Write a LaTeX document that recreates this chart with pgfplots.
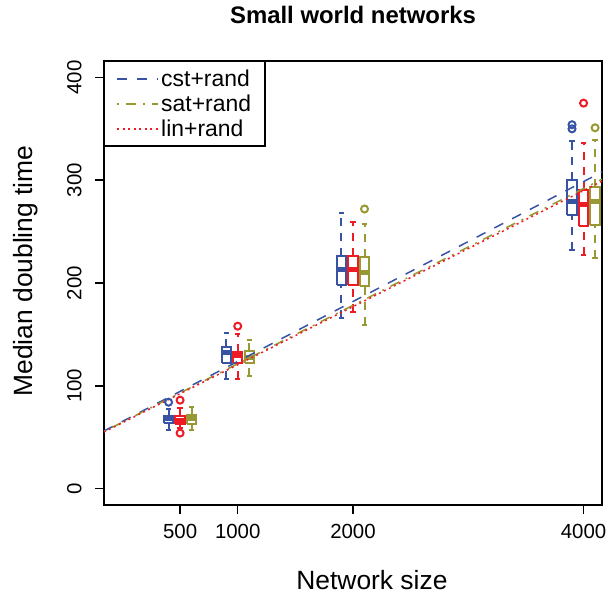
\documentclass[border=0pt]{standalone}
\usepackage{fontspec}
\setmainfont{Liberation Sans}
\usepackage{pgfplots}
\pgfplotsset{compat=1.18}

\definecolor{cstblue}{RGB}{57,83,164}
\definecolor{linred}{RGB}{237,28,36}
\definecolor{satolive}{RGB}{152,152,52}

% pieces of an R-style boxplot, drawn as broken line plots (nan = break)
\pgfplotsset{
  bx/.style={forget plot, line width=2bp, unbounded coords=jump},
  bxmed/.style={forget plot, line width=5bp, unbounded coords=jump},
  bxwhisk/.style={forget plot, line width=2bp, dash pattern=on 8bp off 7bp, unbounded coords=jump},
  bxout/.style={forget plot, only marks, mark=o, mark size=3.5bp, mark options={solid, line width=2bp}},
}

\begin{document}
\begin{tikzpicture}
\begin{axis}[
    scale only axis,
    width=498bp, height=444bp,
    xmin=-160, xmax=4160,
    ymin=-16, ymax=416,
    xtick={500,1000,2000,4000},
    xticklabels={500,1000,2000,4000},
    ytick={0,100,200,300,400},
    yticklabels={0,100,200,300,400},
    tick align=outside,
    major tick length=9bp,
    tick style={black, line width=1.5bp},
    axis line style={line width=1.5bp},
    xtick pos=bottom, ytick pos=left,
    xticklabel shift=7bp, yticklabel shift=10bp,
    x tick label style={font=\fontsize{20.5}{24}\selectfont},
    y tick label style={font=\fontsize{20.5}{24}\selectfont, rotate=90, anchor=south},
    xlabel={Network size},
    ylabel={Median doubling time},
    xlabel style={font=\fontsize{26.5}{30}\selectfont, at={(axis description cs:0.538,-0.169)}, anchor=center},
    ylabel style={font=\fontsize{26.5}{30}\selectfont, at={(axis description cs:-0.157,0.527)}, anchor=center},
    title={Small world networks},
    title style={font=\fontsize{24}{27}\selectfont\bfseries, at={(axis description cs:0.5,1.09)}, anchor=center},
    legend style={at={(0,1)}, anchor=north west, draw=black, line width=1.5bp,
        font=\fontsize{23}{26}\selectfont, inner xsep=12bp, inner ysep=6bp,
        row sep=3bp, cells={anchor=west}},
    legend image code/.code={\draw[#1] (0bp,0bp) -- (34bp,0bp); \path (0bp,0bp) -- (41bp,0bp);},
]
% ---- cst+rand boxes at 400, 900, 1900, 3900
\addplot[cstblue, bx] coordinates {
  (360,63.8) (440,63.8) (440,70.6) (360,70.6) (360,63.8) (nan,nan)
  (860,122.5) (940,122.5) (940,138) (860,138) (860,122.5) (nan,nan)
  (1860,198) (1940,198) (1940,226) (1860,226) (1860,198) (nan,nan)
  (3860,266) (3940,266) (3940,300) (3860,300) (3860,266)
  (nan,nan) (377.5,57) (422.5,57) (nan,nan) (377.5,77.5) (422.5,77.5)
  (nan,nan) (877.5,107) (922.5,107) (nan,nan) (877.5,151) (922.5,151)
  (nan,nan) (1877.5,166) (1922.5,166) (nan,nan) (1877.5,268) (1922.5,268)
  (nan,nan) (3877.5,232) (3922.5,232) (nan,nan) (3877.5,338) (3922.5,338)
};
\addplot[cstblue, bxmed] coordinates {
  (360,67.7) (440,67.7) (nan,nan) (860,132) (940,132) (nan,nan)
  (1860,213) (1940,213) (nan,nan) (3860,279) (3940,279)
};
\addplot[cstblue, bxwhisk] coordinates {
  (400,57) (400,63.8) (nan,nan) (400,70.6) (400,77.5) (nan,nan)
  (900,107) (900,122.5) (nan,nan) (900,138) (900,151) (nan,nan)
  (1900,166) (1900,198) (nan,nan) (1900,226) (1900,268) (nan,nan)
  (3900,232) (3900,266) (nan,nan) (3900,300) (3900,338)
};
\addplot[cstblue, bxout] coordinates {(400,84) (3900,350) (3900,354)};
% ---- lin+rand boxes at 500, 1000, 2000, 4000
\addplot[linred, bx] coordinates {
  (460,63) (540,63) (540,70.6) (460,70.6) (460,63) (nan,nan)
  (960,122) (1040,122) (1040,133) (960,133) (960,122) (nan,nan)
  (1960,198) (2040,198) (2040,226) (1960,226) (1960,198) (nan,nan)
  (3960,255) (4040,255) (4040,290) (3960,290) (3960,255)
  (nan,nan) (477.5,59) (522.5,59) (nan,nan) (477.5,78) (522.5,78)
  (nan,nan) (977.5,107) (1022.5,107) (nan,nan) (977.5,150) (1022.5,150)
  (nan,nan) (1977.5,172) (2022.5,172) (nan,nan) (1977.5,259) (2022.5,259)
  (nan,nan) (3977.5,227) (4022.5,227) (nan,nan) (3977.5,336) (4022.5,336)
};
\addplot[linred, bxmed] coordinates {
  (460,66.7) (540,66.7) (nan,nan) (960,129) (1040,129) (nan,nan)
  (1960,213) (2040,213) (nan,nan) (3960,276) (4040,276)
};
\addplot[linred, bxwhisk] coordinates {
  (500,59) (500,63) (nan,nan) (500,70.6) (500,78) (nan,nan)
  (1000,107) (1000,122) (nan,nan) (1000,133) (1000,150) (nan,nan)
  (2000,172) (2000,198) (nan,nan) (2000,226) (2000,259) (nan,nan)
  (4000,227) (4000,255) (nan,nan) (4000,290) (4000,336)
};
\addplot[linred, bxout] coordinates {(500,86) (500,54) (1000,158) (4000,375)};
% ---- sat+rand boxes at 600, 1100, 2100, 4100
\addplot[satolive, bx] coordinates {
  (560,63) (640,63) (640,71.6) (560,71.6) (560,63) (nan,nan)
  (1060,122) (1140,122) (1140,134) (1060,134) (1060,122) (nan,nan)
  (2060,197) (2140,197) (2140,225) (2060,225) (2060,197) (nan,nan)
  (4060,256) (4140,256) (4140,293) (4060,293) (4060,256)
  (nan,nan) (577.5,57) (622.5,57) (nan,nan) (577.5,79.7) (622.5,79.7)
  (nan,nan) (1077.5,110) (1122.5,110) (nan,nan) (1077.5,145) (1122.5,145)
  (nan,nan) (2077.5,159) (2122.5,159) (nan,nan) (2077.5,257) (2122.5,257)
  (nan,nan) (4077.5,224) (4122.5,224) (nan,nan) (4077.5,339) (4122.5,339)
};
\addplot[satolive, bxmed] coordinates {
  (560,67.7) (640,67.7) (nan,nan) (1060,128) (1140,128) (nan,nan)
  (2060,210) (2140,210) (nan,nan) (4060,279) (4140,279)
};
\addplot[satolive, bxwhisk] coordinates {
  (600,57) (600,63) (nan,nan) (600,71.6) (600,79.7) (nan,nan)
  (1100,110) (1100,122) (nan,nan) (1100,134) (1100,145) (nan,nan)
  (2100,159) (2100,197) (nan,nan) (2100,225) (2100,257) (nan,nan)
  (4100,224) (4100,256) (nan,nan) (4100,293) (4100,339)
};
\addplot[satolive, bxout] coordinates {(2100,272) (4100,351)};
% ---- fitted lines
\addplot[cstblue, line width=1.5bp, dash pattern=on 10bp off 10bp] coordinates {(-160,56) (4160,308)};
\addlegendentry{cst+rand}
\addplot[satolive, line width=1.5bp, dash pattern=on 2bp off 7bp on 10bp off 7bp] coordinates {(-160,55.5) (4160,301)};
\addlegendentry{sat+rand}
\addplot[linred, line width=1.5bp, dash pattern=on 2bp off 3.5bp] coordinates {(-160,55) (4160,299)};
\addlegendentry{lin+rand}
\coordinate (sw) at (rel axis cs:0,0);
\end{axis}
\pgfresetboundingbox
\useasboundingbox (sw) ++(-104bp,-92bp) rectangle ++(608bp,597bp);
\end{tikzpicture}
\end{document}
